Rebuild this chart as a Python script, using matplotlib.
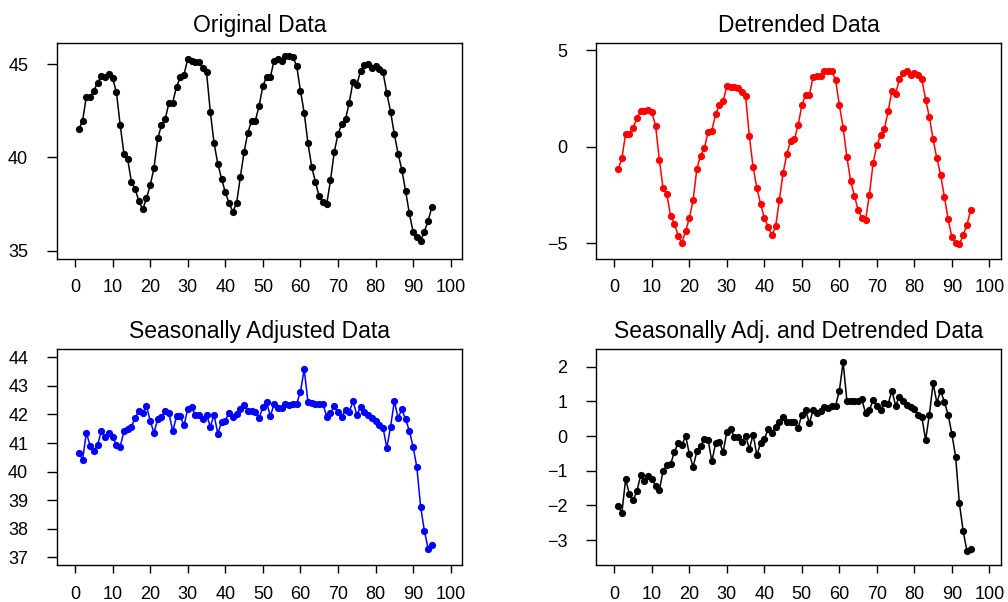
import matplotlib
matplotlib.use("Agg")
import matplotlib.pyplot as plt

plt.rcParams['font.family'] = ['Liberation Sans', 'DejaVu Sans']

t = list(range(1, 96))

original = [41.52, 41.98, 43.27, 43.27, 43.59, 44.02, 44.39, 44.30, 44.48, 44.25,
            43.50, 41.75, 40.21, 39.91, 38.68, 38.30, 37.64, 37.23, 37.80, 38.52,
            39.43, 41.02, 41.73, 42.07, 42.95, 42.95, 43.80, 44.30, 44.45, 45.29,
            45.20, 45.14, 45.13, 44.79, 44.57, 42.46, 40.77, 39.66, 38.86, 38.13,
            37.55, 37.09, 37.55, 38.95, 40.30, 41.34, 41.98, 41.98, 42.77, 43.84,
            44.34, 44.34, 45.20, 45.29, 45.20, 45.46, 45.46, 45.38, 44.91, 43.59,
            42.41, 40.77, 39.50, 38.68, 37.91, 37.61, 37.50, 38.77, 40.29, 41.25,
            41.80, 42.05, 42.95, 44.07, 43.89, 44.64, 44.95, 45.02, 44.79, 44.91,
            44.73, 44.57, 43.45, 42.46, 41.25, 40.21, 39.34, 38.21, 37.00, 36.02,
            35.71, 35.54, 36.02, 36.61, 37.34]

detrended = [-1.16, -0.61, 0.68, 0.68, 0.99, 1.46, 1.82, 1.82, 1.90, 1.77,
             1.07, -0.70, -2.16, -2.45, -3.61, -3.98, -4.61, -4.97, -4.37, -3.69,
             -2.76, -1.14, -0.46, -0.09, 0.77, 0.83, 1.70, 2.14, 2.35, 3.15,
             3.11, 3.08, 3.04, 2.82, 2.60, 0.53, -1.07, -2.14, -2.98, -3.69,
             -4.15, -4.59, -4.13, -2.76, -1.35, -0.38, 0.31, 0.37, 1.12, 2.14,
             2.69, 2.69, 3.61, 3.67, 3.67, 3.91, 3.91, 3.91, 3.44, 2.14,
             0.99, -0.54, -1.77, -2.53, -3.28, -3.69, -3.78, -2.48, -0.85, 0.07,
             0.60, 0.92, 1.82, 2.89, 2.72, 3.50, 3.81, 3.91, 3.71, 3.81,
             3.71, 3.49, 2.43, 1.53, 0.37, -0.61, -1.46, -2.59, -3.76, -4.68,
             -4.97, -5.05, -4.59, -4.06, -3.30]

seas_adj = [40.64, 40.42, 41.36, 40.90, 40.73, 40.94, 41.42, 41.20, 41.36, 41.20,
            40.94, 40.87, 41.41, 41.50, 41.57, 41.89, 42.11, 42.04, 42.31, 41.77,
            41.36, 41.83, 41.92, 42.11, 42.04, 41.41, 41.93, 41.93, 41.62, 42.20,
            42.25, 41.99, 41.99, 41.83, 41.99, 41.57, 41.99, 41.32, 41.74, 41.78,
            42.06, 41.92, 42.00, 42.20, 42.32, 42.11, 42.11, 42.10, 41.88, 42.25,
            42.42, 41.94, 42.37, 42.23, 42.23, 42.37, 42.32, 42.37, 42.37, 42.79,
            43.58, 42.44, 42.41, 42.37, 42.37, 42.37, 41.92, 42.04, 42.30, 42.09,
            41.92, 42.16, 42.09, 42.46, 41.99, 42.25, 42.09, 41.97, 41.88, 41.76,
            41.62, 41.53, 40.83, 41.57, 42.46, 41.88, 42.18, 41.83, 41.43, 40.87,
            40.15, 38.77, 37.93, 37.30, 37.42]

seas_adj_detr = [-2.03, -2.21, -1.25, -1.67, -1.85, -1.60, -1.13, -1.29, -1.15, -1.23,
                 -1.44, -1.56, -1.00, -0.85, -0.81, -0.46, -0.21, -0.27, 0.00, -0.52,
                 -0.89, -0.44, -0.29, -0.08, -0.12, -0.73, -0.21, -0.17, -0.46, 0.12,
                 0.21, -0.04, -0.04, -0.17, 0.00, -0.37, 0.04, -0.56, -0.19, -0.08,
                 0.19, 0.10, 0.27, 0.40, 0.54, 0.40, 0.40, 0.40, 0.23, 0.62,
                 0.75, 0.37, 0.75, 0.65, 0.71, 0.83, 0.81, 0.87, 0.88, 1.31,
                 2.13, 1.02, 1.02, 1.02, 1.02, 1.06, 0.65, 0.75, 1.04, 0.87,
                 0.75, 0.96, 0.92, 1.31, 0.88, 1.13, 1.02, 0.90, 0.83, 0.77,
                 0.62, 0.54, -0.12, 0.62, 1.52, 0.96, 1.31, 0.98, 0.62, 0.06,
                 -0.60, -1.94, -2.73, -3.31, -3.25]

titles = ["Original Data", "Detrended Data",
          "Seasonally Adjusted Data", "Seasonally Adj. and Detrended Data"]
series = [original, detrended, seas_adj, seas_adj_detr]
colors = ["black", "red", "blue", "black"]
yticks = [[35, 40, 45], [-5, 0, 5], [37, 38, 39, 40, 41, 42, 43, 44],
          [-3, -2, -1, 0, 1, 2]]
ylims = [(34.58, 46.16), (-5.79, 5.38), (36.73, 44.29), (-3.72, 2.51)]
xticks = [0, 10, 20, 30, 40, 50, 60, 70, 80, 90, 100]

W, H = 1008, 602
fig = plt.figure(figsize=(W / 100, H / 100), dpi=100)
boxes = [(56.7, 42.7, 462.3, 258.5), (596, 42.7, 1001, 258.5),
         (56.7, 349, 462.3, 565), (596, 349, 1001, 565)]

for i in range(4):
    l, tp, r, b = boxes[i]
    ax = fig.add_axes([l / W, 1 - b / H, (r - l) / W, (b - tp) / H])
    ax.plot(t, series[i], color=colors[i], lw=1.1, marker='o', ms=5.2,
            markeredgewidth=0)
    ax.set_xlim(-4.9, 103.1)
    ax.set_ylim(*ylims[i])
    ax.set_xticks(xticks)
    ax.set_yticks(yticks[i])
    ax.set_title(titles[i], fontsize=16.5, pad=8)
    ax.tick_params(axis='x', direction='out', length=6, width=1, pad=9,
                   labelsize=13)
    ax.tick_params(axis='y', direction='out', length=7.5, width=1, pad=13,
                   labelsize=13)
    for s in ax.spines.values():
        s.set_linewidth(1.0)

fig.savefig("out.png", dpi=100)
